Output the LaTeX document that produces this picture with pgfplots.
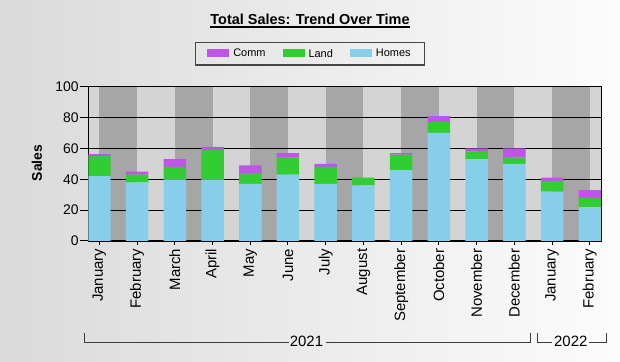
\documentclass[border=0pt]{standalone}
\usepackage{pgfplots}
\usepackage{pgfplotstable}
\pgfplotsset{compat=1.18}
\usepackage{fontspec}
\setmainfont{Liberation Sans}
\definecolor{comm}{RGB}{191,85,230}
\definecolor{land}{RGB}{50,205,50}
\definecolor{homes}{RGB}{135,206,235}
\definecolor{stripedark}{RGB}{166,166,166}
\definecolor{stripelight}{RGB}{212,212,212}
\definecolor{bgleft}{RGB}{218,218,218}
\definecolor{bgright}{RGB}{252,252,252}
\definecolor{legborder}{RGB}{70,70,70}
\definecolor{brack}{RGB}{60,60,60}

\pgfplotstableread{
x homes land comm
0 42 13 1.3
1 38 5 2
2 40 8 5
3 40 19 2
4 37 7 5
5 43 11 3
6 37 11 2
7 36 5 0
8 46 10 1
9 70 7 4
10 53 5 2
11 50 4 6
12 32 7 2
13 22 6 5
}\datatable

\pgfplotsset{mygeom/.style={
  at={(88.3bp,121bp)}, anchor=south west,
  scale only axis, width=513bp, height=154.3bp,
  xmin=-0.294, xmax=13.306, ymin=0, ymax=100,
  axis line style={black, line width=1.1bp},
}}

\begin{document}
\begin{tikzpicture}
\shade[left color=bgleft, right color=bgright] (0bp,0bp) rectangle (620bp,362bp);
% background stripes and grid
\begin{axis}[
  mygeom,
  axis on top,
  ytick={20,40,60,80}, xtick=\empty,
  yticklabels={}, major tick length=0pt,
  ymajorgrids,
  major grid style={black, line width=1.1bp},
]
\fill[stripelight] (axis cs:-0.294,0) rectangle (axis cs:13.306,100);
\fill[stripedark] (axis cs:0,0) rectangle (axis cs:1,100);
\fill[stripedark] (axis cs:2,0) rectangle (axis cs:3,100);
\fill[stripedark] (axis cs:4,0) rectangle (axis cs:5,100);
\fill[stripedark] (axis cs:6,0) rectangle (axis cs:7,100);
\fill[stripedark] (axis cs:8,0) rectangle (axis cs:9,100);
\fill[stripedark] (axis cs:10,0) rectangle (axis cs:11,100);
\fill[stripedark] (axis cs:12,0) rectangle (axis cs:13,100);
\end{axis}
% bars
\begin{axis}[
  mygeom,
  /pgf/number format/assume math mode=true,
  ytick={0,20,40,60,80,100},
  xtick={0,1,2,3,4,5,6,7,8,9,10,11,12,13},
  xticklabels={January,February,March,April,May,June,July,August,September,October,November,December,January,February},
  xtick pos=bottom, ytick pos=left,
  tick align=outside,
  xtick style={black, line width=1bp, /pgfplots/major tick length=4bp},
  ytick style={black, line width=1bp, /pgfplots/major tick length=8bp},
  xticklabel style={rotate=90, anchor=east, font=\fontsize{15}{17}\selectfont},
  yticklabel style={font=\fontsize{14}{16}\selectfont, xshift=-2bp},
  ybar stacked, bar width=22.5bp,
  legend columns=3,
  reverse legend,
  legend image code/.code={\fill[#1] (0bp,-3bp) rectangle (22bp,5bp);},
  legend style={at={(0.432,1.213)}, anchor=center, draw=legborder, line width=1.3bp, fill=none,
    font=\fontsize{11}{13}\selectfont, inner xsep=12bp, inner ysep=4.5bp,
    /tikz/every odd column/.append style={column sep=2bp},
    /tikz/every even column/.append style={column sep=15bp}},
]
\addplot[fill=homes, draw=none] table[x=x, y=homes] {\datatable};
\addlegendentry{Homes\hspace{9bp}}
\addplot[fill=land, draw=none] table[x=x, y=land] {\datatable};
\addlegendentry{Land}
\addplot[fill=comm, draw=none] table[x=x, y=comm] {\datatable};
\addlegendentry{Comm}
\end{axis}
\node[anchor=base, inner sep=0pt, font=\fontsize{14.5}{17}\selectfont\bfseries] (title) at (310bp,337bp) {Total Sales: Trend Over Time};
\draw[line width=1.3bp] ([yshift=-2bp]title.base west) -- ([yshift=-2bp]title.base east);
\node[rotate=90, font=\fontsize{14}{16}\selectfont\bfseries] at (37bp,199bp) {Sales};
\draw[line width=0.9bp, brack] (84.3bp,29bp) -- (84.3bp,20bp) -- (288.5bp,20bp);
\draw[line width=0.9bp, brack] (326bp,20bp) -- (530bp,20bp) -- (530bp,29bp);
\node[font=\fontsize{15}{17}\selectfont] at (306.5bp,20.3bp) {2021};
\draw[line width=0.9bp, brack] (537.3bp,29bp) -- (537.3bp,20bp) -- (551.7bp,20bp);
\draw[line width=0.9bp, brack] (589.3bp,20bp) -- (606bp,20bp) -- (606bp,29bp);
\node[font=\fontsize{15}{17}\selectfont] at (570.8bp,20.3bp) {2022};
\pgfresetboundingbox
\useasboundingbox (0bp,0bp) rectangle (620bp,362bp);
\end{tikzpicture}
\end{document}
